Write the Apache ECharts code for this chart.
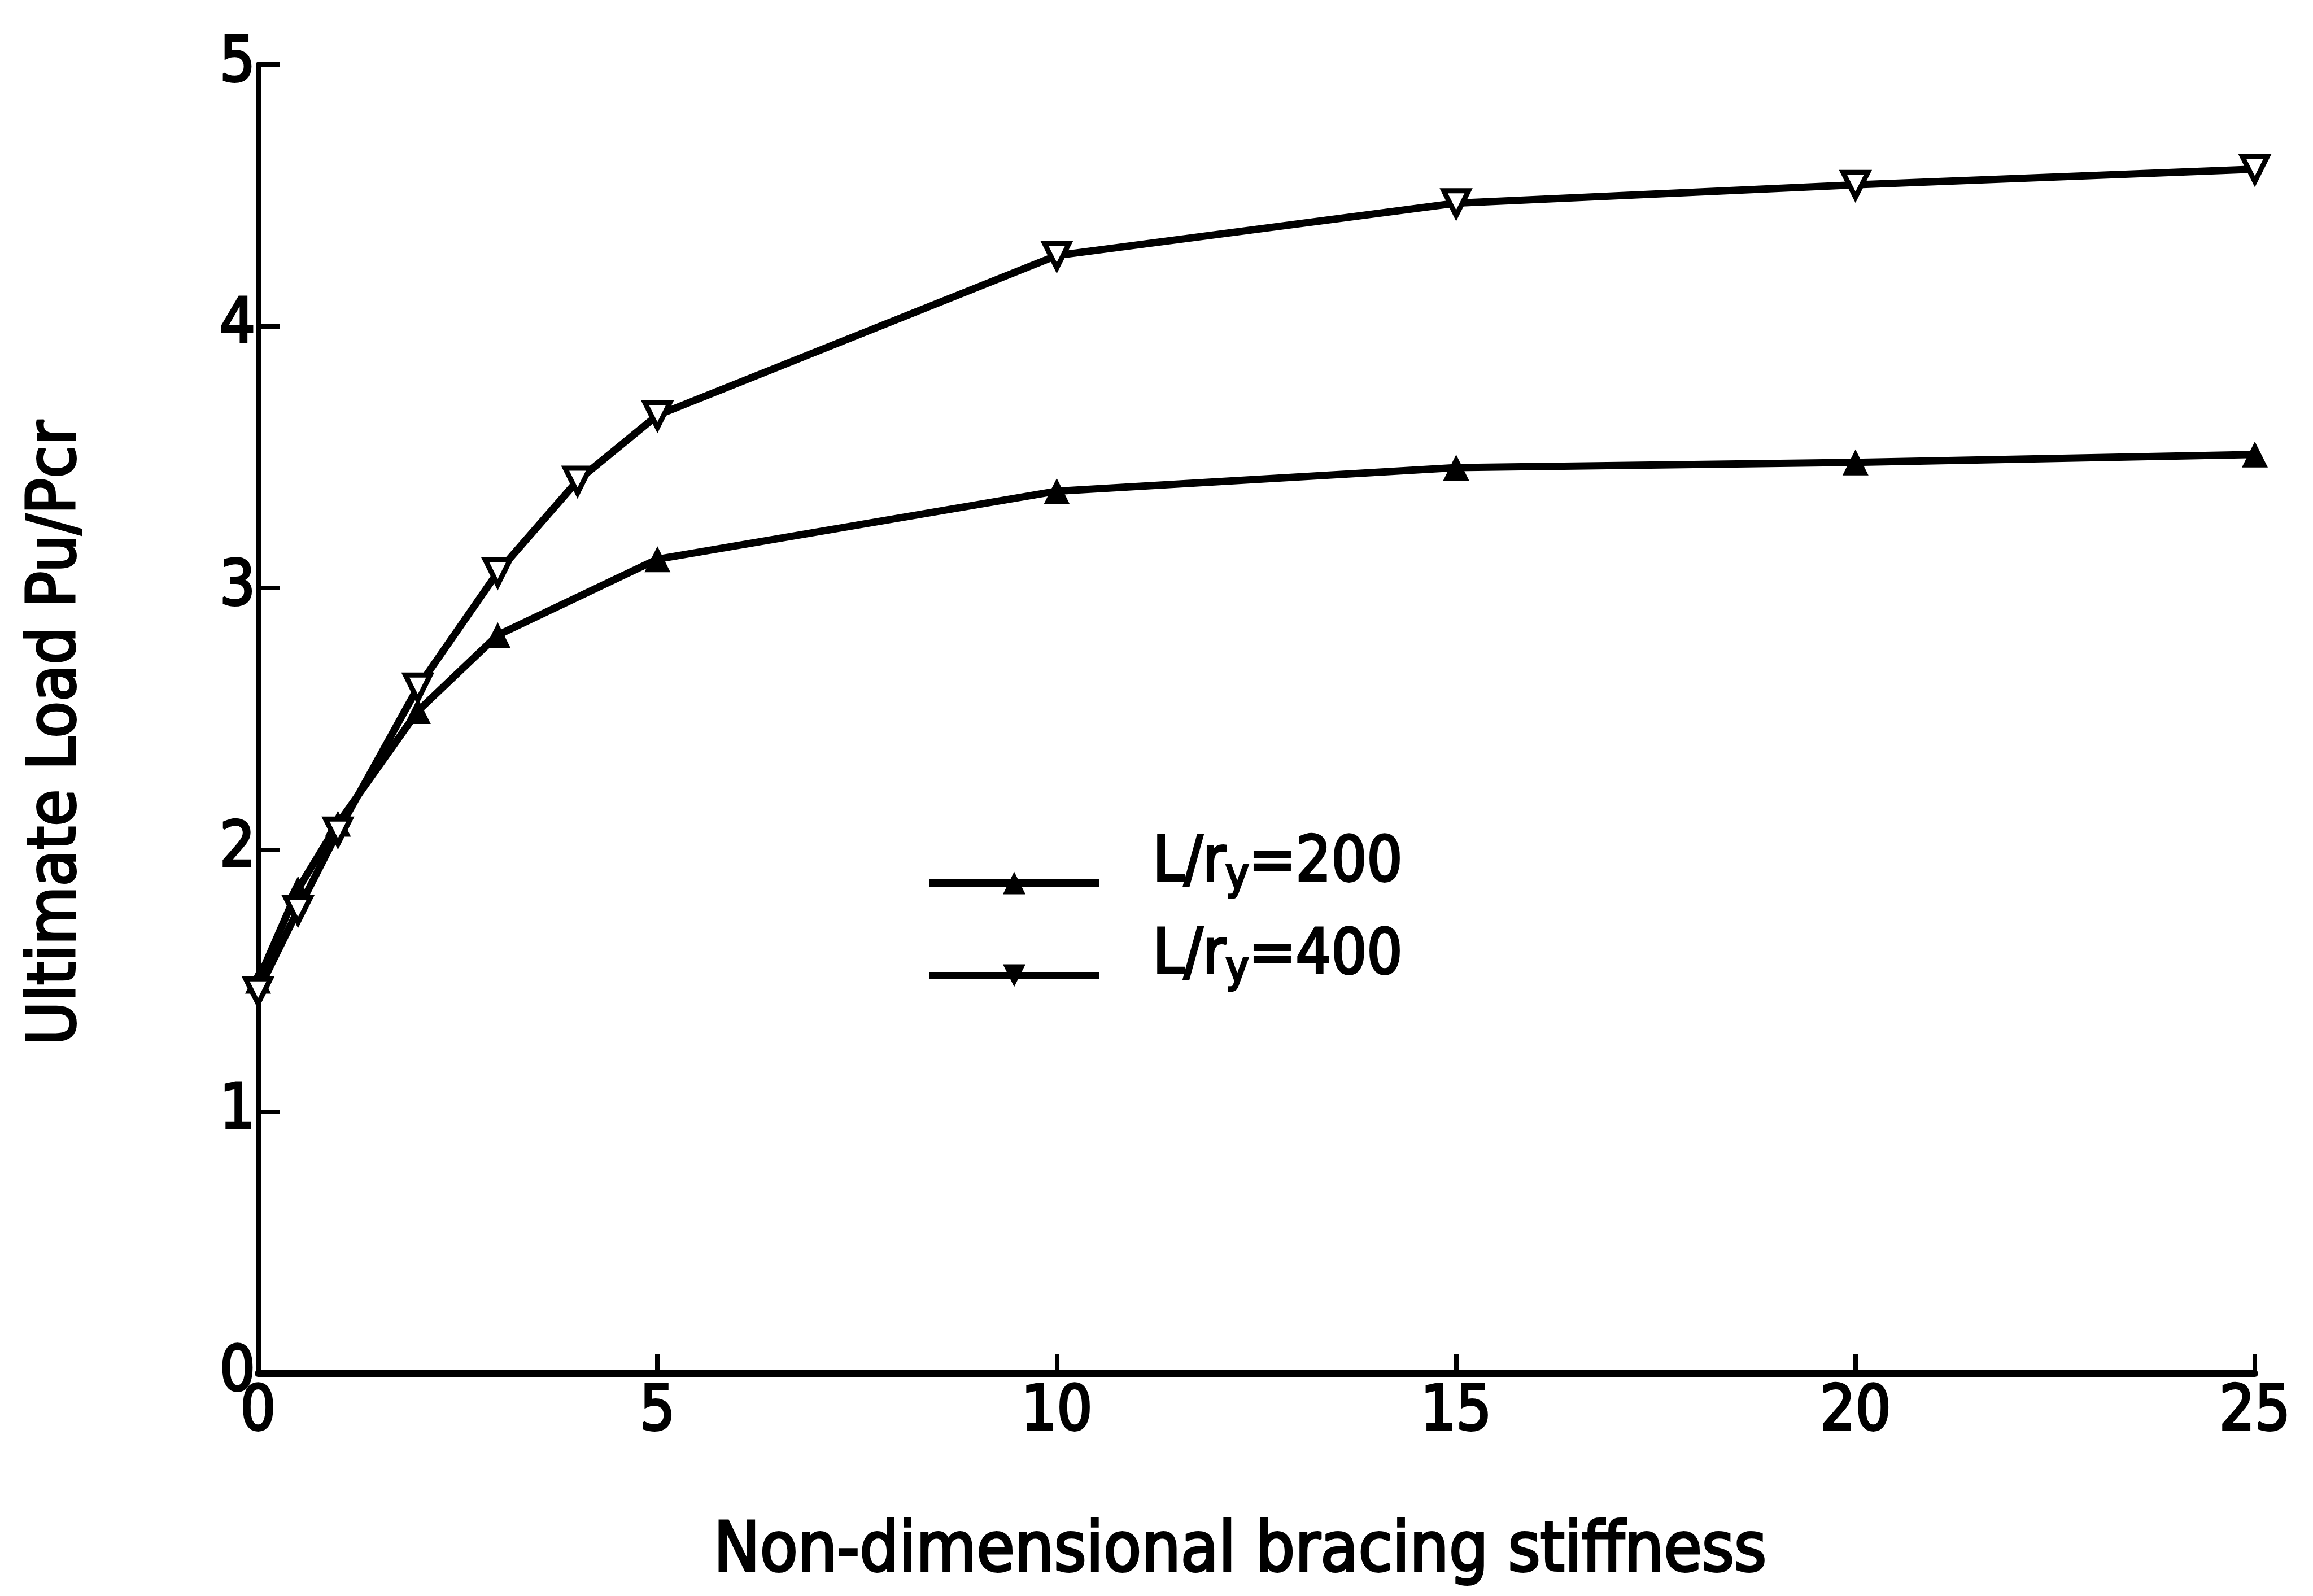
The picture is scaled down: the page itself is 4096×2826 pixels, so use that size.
<!DOCTYPE html>
<html>
<head>
<meta charset="utf-8">
<script src="https://cdn.jsdelivr.net/npm/echarts@6/dist/echarts.min.js"></script>
<style>
  html, body { margin: 0; padding: 0; background: #fff; }
  #chart { width: 4096px; height: 2826px; }
</style>
</head>
<body>
<div id="chart"></div>
<script>
// Ultimate load ratio against non-dimensional bracing stiffness
const stiffness200 = [0, 0.5, 1, 2, 3, 5, 10, 15, 20, 25];
const load200      = [1.50, 1.85, 2.10, 2.53, 2.82, 3.11, 3.37, 3.46, 3.48, 3.51];

const stiffness400 = [0, 0.5, 1, 2, 3, 4, 5, 10, 15, 20, 25];
const load400      = [1.46, 1.77, 2.07, 2.62, 3.06, 3.41, 3.66, 4.27, 4.47, 4.54, 4.60];

const seriesNames = ['L/ry=200', 'L/ry=400'];
const xTitle = 'Non-dimensional bracing stiffness';
const yTitle = 'Ultimate Load Pu/Pcr';

const FONT = "'Liberation Sans Narrow', 'DejaVu Sans Condensed', 'DejaVu Sans', sans-serif";
const DOWN_TRIANGLE = 'path://M0,0L20,0L10,18Z';

// heavier pen-plotter strokes: outline the glyphs in their own colour
const INK = { color: '#000', textBorderColor: '#000', textBorderWidth: 4 };

function pairs(xs, ys) {
  return xs.map((x, i) => [x, ys[i]]);
}

const chart = echarts.init(document.getElementById('chart'), null, { renderer: 'canvas' });

const option = {
  animation: false,
  backgroundColor: '#fff',
  grid: { left: 457, right: 103, top: 114, bottom: 394, containLabel: false },
  xAxis: {
    type: 'value',
    min: 0, max: 25, interval: 5,
    name: xTitle,
    nameLocation: 'middle',
    nameGap: 256,
    nameTextStyle: Object.assign({ fontFamily: FONT, fontSize: 122, padding: [0, 58, 0, 0] }, INK),
    axisLine: { show: true, onZero: false, lineStyle: { color: '#000', width: 12 } },
    axisTick: { show: true, inside: true, length: 34, lineStyle: { color: '#000', width: 8 } },
    axisLabel: Object.assign({ margin: 15, fontFamily: FONT, fontSize: 110 }, INK),
    splitLine: { show: false }
  },
  yAxis: {
    type: 'value',
    min: 0, max: 5, interval: 1,
    name: yTitle,
    nameLocation: 'middle',
    nameRotate: 90,
    nameGap: 297,
    nameTextStyle: Object.assign({ fontFamily: FONT, fontSize: 118, padding: [0, 50, 0, 0] }, INK),
    axisLine: { show: true, onZero: false, lineStyle: { color: '#000', width: 9 } },
    axisTick: { show: true, inside: true, length: 38, lineStyle: { color: '#000', width: 8 } },
    axisLabel: Object.assign({ margin: 5, fontFamily: FONT, fontSize: 110, padding: [0, 0, 64, 0] }, INK),
    splitLine: { show: false }
  },
  legend: {
    orient: 'vertical',
    left: 1639,
    top: 1473,
    padding: 0,
    itemWidth: 301,
    itemHeight: 50,
    itemGap: -15,
    lineStyle: { width: 13, color: '#000' },
    data: [
      { name: seriesNames[0], itemStyle: { color: '#000', borderWidth: 0 } },
      { name: seriesNames[1], itemStyle: { color: '#000', borderWidth: 0 } }
    ],
    formatter: function (name) {
      const value = name.split('=')[1];
      return '{p| }{a|L/r}{s|y}{a|=' + value + '}';
    },
    textStyle: {
      color: '#000',
      fontFamily: FONT,
      rich: {
        p: { width: 90, fontSize: 110, lineHeight: 110 },
        a: Object.assign({ fontFamily: FONT, fontSize: 110, lineHeight: 110, padding: [0, 0, 67, 0] }, INK),
        s: Object.assign({ fontFamily: FONT, fontSize: 77, lineHeight: 77, padding: [0, 0, 20, 0] }, INK)
      }
    }
  },
  series: [
    {
      name: seriesNames[0],
      type: 'line',
      data: pairs(stiffness200, load200),
      symbol: 'triangle',
      symbolSize: 46,
      itemStyle: { color: '#000' },
      lineStyle: { color: '#000', width: 13 },
      z: 3
    },
    {
      name: seriesNames[1],
      type: 'line',
      data: pairs(stiffness400, load400),
      symbol: DOWN_TRIANGLE,
      symbolSize: 44,
      itemStyle: { color: '#fff', borderColor: '#000', borderWidth: 9 },
      lineStyle: { color: '#000', width: 13 },
      z: 3
    }
  ]
};

chart.setOption(option);
</script>
</body>
</html>
